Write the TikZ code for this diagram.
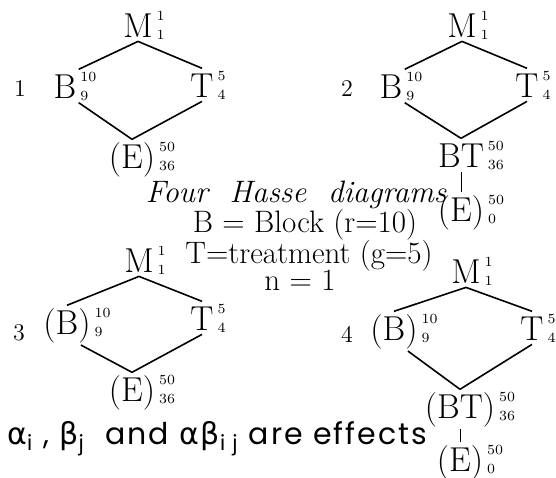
\documentclass[tikz,border=0pt]{standalone}
\usepackage{fontspec}
\usepackage{tikz}
\newfontfamily\effectfont[LetterSpace=7]{Poppins}
\newfontfamily\greekfont[LetterSpace=7]{DejaVu Sans}
\newcommand{\fac}[3]{#1\rlap{\hspace{2pt}\raisebox{8.5pt}{\scriptsize #2}}\rlap{\hspace{2pt}\raisebox{-1pt}{\scriptsize #3}}}

\begin{document}
\begin{tikzpicture}[x=0.5pt, y=-0.5pt, fac/.style={inner sep=1pt, anchor=base, font=\LARGE},
  txt/.style={inner sep=1pt, anchor=base, font=\fontsize{15.5}{18}\selectfont},
  lab/.style={font=\large}, edge/.style={line width=0.8pt}, stem/.style={line width=0.5pt}]
  \useasboundingbox (0,0) rectangle (556,477);

  \node[lab] (n1) at (20,89) {1};
  \node[fac] (M1) at (138,37) {\fac{M}{1}{1}};
  \node[fac] (B1) at (65,98) {\fac{B}{10}{9}};
  \node[fac] (T1) at (202,97) {\fac{T}{5}{4}};
  \node[fac] (E1) at (132,168) {\fac{(E)}{50}{36}};
  \draw[edge] (M1.south) -- (B1.north east) (M1.south) -- (T1.north)
    (B1.south east) -- (E1.north) (T1.south) -- (E1.north);

  \node[lab] (n2) at (347,89) {2};
  \node[fac] (M2) at (462,37) {\fac{M}{1}{1}};
  \node[fac] (B2) at (391,98) {\fac{B}{10}{9}};
  \node[fac] (T2) at (527,97) {\fac{T}{5}{4}};
  \node[fac] (BT2) at (461,167) {\fac{BT}{50}{36}};
  \node[fac] (E2) at (461,221) {\fac{(E)}{50}{0}};
  \draw[edge] (M2.south) -- (B2.north east) (M2.south) -- (T2.north)
    (B2.south east) -- (BT2.north) (T2.south) -- (BT2.north);
  \draw[stem] (BT2.south) -- (E2.north);

  \node[txt] (title) at (296,202) {\itshape Four\ \ Hasse\ \ diagrams};
  \node[txt] (blk) at (305,232) {B = Block (r=10)};
  \node[txt] (trt) at (309,263) {T=treatment (g=5)};
  \node[txt] (rep) at (300,290) {n = 1};

  \node[lab] (n3) at (19,333) {3};
  \node[fac] (M3) at (139,272) {\fac{M}{1}{1}};
  \node[fac] (B3) at (67,334) {\fac{(B)}{10}{9}};
  \node[fac] (T3) at (202,330) {\fac{T}{5}{4}};
  \node[fac] (E3) at (132,401) {\fac{(E)}{50}{36}};
  \draw[edge] (M3.south) -- (B3.north) (M3.south) -- (T3.north)
    (B3.-55) -- (E3.north) (T3.south) -- (E3.north);

  \node[lab] (n4) at (347,334) {4};
  \node[fac] (M4) at (466,283) {\fac{M}{1}{1}};
  \node[fac] (B4) at (394,340) {\fac{(B)}{10}{9}};
  \node[fac] (T4) at (532,340) {\fac{T}{5}{4}};
  \node[fac] (BT4) at (460,418) {\fac{(BT)}{50}{36}};
  \node[fac] (E4) at (460,471) {\fac{(E)}{50}{0}};
  \draw[edge] (M4.south) -- (B4.north) (M4.south) -- (T4.north)
    (B4.-55) -- (BT4.north) (T4.south) -- (BT4.north);
  \draw[stem] (BT4.south) -- (E4.north);

  \node[anchor=base west, inner sep=0pt, font=\fontsize{15}{18}\selectfont\effectfont] (eff) at (7,444)
    {{\greekfont α}\textsubscript{i} , {\greekfont β}\textsubscript{j}\ \ and {\greekfont αβ}\textsubscript{i j} are effects};
\end{tikzpicture}
\end{document}
